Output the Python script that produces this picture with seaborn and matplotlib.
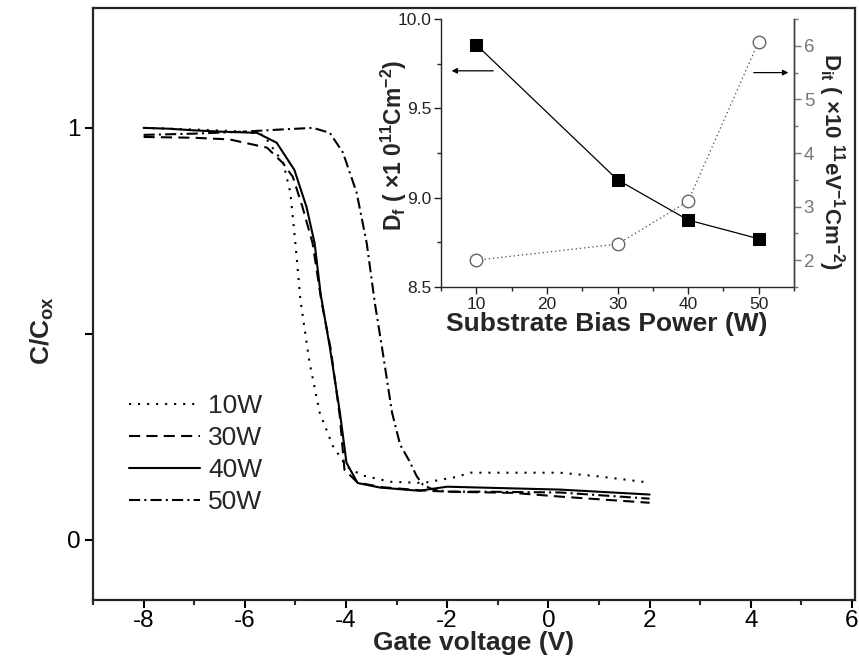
import matplotlib
matplotlib.use("Agg")
import matplotlib.pyplot as plt
from matplotlib.ticker import MultipleLocator, FixedLocator, FormatStrFormatter
import seaborn as sns

# ---------------- data ----------------
v_10w = [-8.0, -7.0, -6.0, -5.63, -5.24, -5.1, -5.0, -4.9, -4.72, -4.52, -4.26, -3.99, -3.69, -3.13, -2.48, -1.81, -1.54, -0.69, 0.23, 1.0, 2.0]
c_10w = [1.0, 0.996, 0.991, 0.983, 0.915, 0.843, 0.720, 0.582, 0.430, 0.309, 0.228, 0.178, 0.157, 0.141, 0.138, 0.153, 0.163, 0.163, 0.163, 0.154, 0.139]

v_30w = [-8.0, -7.0, -6.3, -5.56, -5.25, -5.05, -4.86, -4.66, -4.48, -4.3, -4.12, -4.03, -3.77, -3.3, -2.5, -2.0, -0.69, 0.23, 2.0]
c_30w = [0.978, 0.976, 0.972, 0.952, 0.915, 0.881, 0.808, 0.720, 0.575, 0.462, 0.298, 0.170, 0.139, 0.128, 0.120, 0.117, 0.114, 0.105, 0.090]

v_40w = [-8.0, -7.5, -7.0, -6.5, -5.76, -5.37, -5.02, -4.78, -4.62, -4.5, -4.32, -4.12, -3.99, -3.77, -3.33, -2.54, -2.4, -2.0, 0.23, 2.0]
c_40w = [1.0, 0.998, 0.994, 0.991, 0.988, 0.964, 0.898, 0.808, 0.720, 0.596, 0.468, 0.309, 0.187, 0.138, 0.127, 0.119, 0.122, 0.129, 0.122, 0.110]

v_50w = [-8.0, -7.0, -6.0, -5.3, -4.65, -4.32, -4.06, -3.79, -3.59, -3.43, -3.29, -3.09, -2.93, -2.75, -2.6, -2.48, -2.3, -2.0, -1.35, 0.23, 2.0]
c_50w = [0.983, 0.986, 0.991, 0.996, 1.0, 0.988, 0.940, 0.843, 0.720, 0.575, 0.468, 0.309, 0.231, 0.192, 0.154, 0.134, 0.123, 0.117, 0.117, 0.115, 0.100]

labels = ["10W", "30W", "40W", "50W"]

power = [10, 30, 40, 50]
d_f = [9.856, 9.10, 8.875, 8.77]
d_it = [2.0, 2.3, 3.1, 6.08]

# ---------------- style ----------------
sns.set_style("ticks")
plt.rcParams["font.family"] = ["Liberation Sans", "DejaVu Sans"]
plt.rcParams["axes.unicode_minus"] = False
plt.rcParams["mathtext.fontset"] = "custom"
plt.rcParams["mathtext.rm"] = "Liberation Sans:bold"
plt.rcParams["mathtext.it"] = "Liberation Sans:bold"
plt.rcParams["mathtext.bf"] = "Liberation Sans:bold"
plt.rcParams["mathtext.default"] = "regular"
plt.rcParams["lines.scale_dashes"] = False

W, H = 859, 660
fig = plt.figure(figsize=(W / 100, H / 100), dpi=100)

def fx(px):
    return px / W

def fy(py):
    return 1 - py / H

ax = fig.add_axes([fx(93), fy(600), fx(855) - fx(93), fy(8) - fy(600)])

styles = [(0, (1.5, 5.0)), (0, (8, 4.5)), "solid", (0, (8, 3, 1.5, 3))]
series = [(v_10w, c_10w), (v_30w, c_30w), (v_40w, c_40w), (v_50w, c_50w)]
for (vx, cy), lab, ls in zip(series, labels, styles):
    sns.lineplot(x=vx, y=cy, ax=ax, color="black", linewidth=1.5,
                 linestyle=ls, label=lab, estimator=None, sort=False)

ax.set_xlim(-9, 6.06)
ax.set_ylim(-0.146, 1.291)
ax.xaxis.set_major_locator(MultipleLocator(2))
ax.xaxis.set_minor_locator(MultipleLocator(1))
ax.yaxis.set_major_locator(FixedLocator([0, 0.5, 1]))
ax.set_yticklabels(["0", "", "1"])
ax.tick_params(axis="both", which="major", direction="out", length=6, width=1.5,
               labelsize=17.5, pad=1.5, colors="black")
ax.tick_params(axis="y", which="major", pad=3)
ax.tick_params(axis="x", which="minor", direction="out", length=3.5, width=1.5)
for s in ax.spines.values():
    s.set_linewidth(1.6)
    s.set_visible(True)
ax.set_xlabel("Gate voltage (V)", fontsize=19, fontweight="bold")
ax.xaxis.set_label_coords(0.5, -0.052)
ax.set_ylabel(r"C/C$_{ox}$", fontsize=19, fontweight="bold")
ax.yaxis.set_label_coords(-0.048, 0.456)

leg = ax.legend(loc="upper left", bbox_to_anchor=(fx(129), fy(394)),
                bbox_transform=fig.transFigure, frameon=False, fontsize=19,
                handlelength=2.7, handletextpad=0.3, labelspacing=0.3,
                borderpad=0, borderaxespad=0)

# ---------------- inset ----------------
ins = fig.add_axes([fx(441), fy(287), fx(794) - fx(441), fy(19) - fy(287)])
ins2 = ins.twinx()

sns.lineplot(x=power, y=d_f, ax=ins, color="black", linewidth=0.9, marker="s",
             markersize=9, markerfacecolor="black", markeredgecolor="black",
             estimator=None, sort=False)
sns.lineplot(x=power, y=d_it, ax=ins2, color="#555555", linewidth=0.9,
             linestyle=(0, (1, 2)), marker="o", markersize=9,
             markerfacecolor="white", markeredgecolor="#666666",
             markeredgewidth=1.0, estimator=None, sort=False)

ins.set_xlim(5, 55)
ins.set_ylim(8.5, 10.0)
ins2.set_ylim(1.5, 6.5)
ins.xaxis.set_major_locator(MultipleLocator(10))
ins.xaxis.set_minor_locator(MultipleLocator(5))
ins.yaxis.set_major_locator(MultipleLocator(0.5))
ins.yaxis.set_minor_locator(MultipleLocator(0.25))
ins2.yaxis.set_major_locator(MultipleLocator(1))
ins2.yaxis.set_minor_locator(MultipleLocator(0.5))
ins.yaxis.set_major_formatter(FormatStrFormatter("%.1f"))

for a in (ins, ins2):
    a.spines["top"].set_visible(False)
    for s in ("left", "right", "bottom"):
        a.spines[s].set_linewidth(1.0)
ins2.spines["left"].set_visible(False)
ins2.spines["bottom"].set_visible(False)
ins2.spines["right"].set_color("#444444")

ins.tick_params(axis="both", which="major", direction="out", length=5, width=1.0,
                labelsize=12.5, pad=2, colors="#222222")
ins.tick_params(axis="both", which="minor", direction="out", length=3, width=1.0,
                colors="#222222")
ins2.tick_params(axis="y", which="major", direction="out", length=5, width=1.0,
                 labelsize=13.5, pad=2, colors="#777777")
ins2.tick_params(axis="y", which="minor", direction="out", length=3, width=1.0,
                 colors="#777777")

ins.set_xlabel("Substrate Bias Power (W)", fontsize=19, fontweight="bold")
ins.xaxis.set_label_coords(0.47, -0.095)
ins.set_ylabel(r"D$_{f}$ ( ×1 0$^{11}$Cm$^{-2}$)", fontsize=16.5, fontweight="bold")
ins.yaxis.set_label_coords(-0.092, 0.53)
ins2.set_ylabel(r"D$_{it}$ ( ×10 $^{11}$eV$^{-1}$Cm$^{-2}$)", fontsize=16,
                fontweight="bold", rotation=270, va="center")
ins2.yaxis.set_label_coords(1.105, 0.47)

# arrows
ins.annotate("", xy=(6.5, 9.71), xytext=(12.4, 9.71),
             arrowprops=dict(arrowstyle="-|>", color="black", lw=0.9,
                             mutation_scale=8, shrinkA=0, shrinkB=0))
ins2.annotate("", xy=(54.2, 5.5), xytext=(49.3, 5.5),
              arrowprops=dict(arrowstyle="-|>", color="black", lw=0.9,
                              mutation_scale=8, shrinkA=0, shrinkB=0))

fig.savefig("out.png", dpi=100)
